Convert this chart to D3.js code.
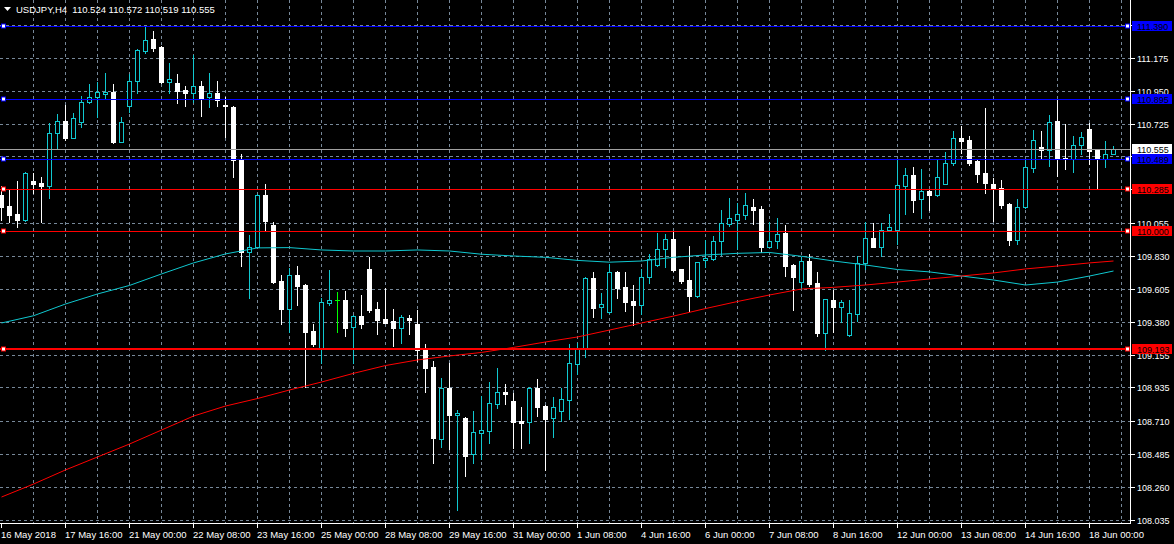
<!DOCTYPE html>
<html><head><meta charset="utf-8">
<script src="https://cdn.jsdelivr.net/npm/d3@7"></script>
<style>html,body{margin:0;padding:0;background:#000;overflow:hidden}</style>
</head><body>
<svg id="c" width="1174" height="544"></svg>
<script>
const symbolTitle = "USDJPY,H4";
const opens = [110.242,110.167,110.113,110.072,110.337,110.326,110.305,110.662,110.745,110.632,
110.736,110.871,110.910,110.931,110.941,110.604,110.850,111.018,111.222,111.302,
111.247,111.012,111.005,110.955,110.933,110.983,110.906,110.933,110.855,110.838,
110.485,109.857,109.891,110.242,110.038,109.658,109.470,109.697,109.631,109.319,
109.194,109.511,109.527,109.529,109.348,109.420,109.740,109.468,109.400,109.386,
109.341,109.405,109.366,109.194,109.074,108.587,108.931,108.750,108.728,108.481,
108.628,108.641,108.825,108.902,108.843,108.705,108.699,108.931,108.809,108.726,
108.777,108.852,109.097,109.200,109.679,109.480,109.446,109.719,109.617,109.522,
109.497,109.683,109.765,109.874,109.944,109.740,109.665,109.556,109.799,109.810,
109.928,110.047,110.074,110.108,110.161,110.147,109.891,109.928,109.986,109.767,
109.654,109.794,109.642,109.307,109.529,109.484,109.294,109.436,109.783,109.948,
109.891,110.002,110.005,110.305,110.378,110.213,110.269,110.242,110.319,110.462,
110.629,110.616,110.473,110.392,110.317,110.290,110.181,109.939,110.159,110.428,
110.568,110.550,110.745,110.494,110.485,110.580,110.691,110.548,110.489,110.524];
const highs = [110.303,110.276,110.337,110.398,110.394,110.367,110.734,110.793,110.853,110.798,
110.912,110.996,111.007,111.073,110.996,110.775,111.064,111.234,111.385,111.356,
111.254,111.141,111.064,110.983,111.193,111.018,111.073,111.018,110.910,110.847,
110.521,109.971,110.249,110.317,110.061,109.699,109.744,109.760,109.638,109.366,
109.541,109.733,109.583,109.590,109.427,109.563,109.823,109.516,109.609,109.468,
109.427,109.427,109.461,109.230,109.115,108.999,109.101,108.780,108.737,108.775,
108.879,108.972,109.069,108.959,108.900,108.804,108.940,108.992,108.813,108.870,
108.929,109.230,109.235,109.687,109.719,109.575,109.772,109.726,109.719,109.631,
109.740,109.840,109.982,109.977,109.991,109.742,109.896,109.785,109.937,109.964,
110.140,110.222,110.188,110.256,110.213,110.167,110.061,110.084,110.038,109.774,
109.819,109.842,109.719,109.536,109.597,109.529,109.529,109.828,110.061,110.050,
110.050,110.113,110.480,110.428,110.430,110.419,110.273,110.482,110.534,110.677,
110.711,110.643,110.477,110.835,110.356,110.344,110.186,110.215,110.485,110.684,
110.679,110.786,110.887,110.725,110.643,110.670,110.729,110.551,110.609,110.572];
const lows = [110.072,110.060,110.027,110.065,110.254,110.060,110.224,110.553,110.616,110.630,
110.702,110.869,110.775,110.896,110.598,110.602,110.808,110.937,111.205,111.222,
111.001,110.937,110.865,110.847,110.876,110.779,110.842,110.847,110.638,110.367,
109.760,109.545,109.889,110.005,109.642,109.366,109.310,109.495,108.940,109.217,
109.104,109.495,109.314,109.287,109.104,109.341,109.450,109.298,109.370,109.217,
109.239,109.298,109.115,108.906,108.420,108.533,108.517,108.103,108.336,108.420,
108.451,108.560,108.798,108.821,108.526,108.526,108.560,108.743,108.375,108.601,
108.705,108.723,109.025,109.145,109.416,109.409,109.441,109.545,109.455,109.361,
109.432,109.642,109.760,109.755,109.726,109.642,109.456,109.547,109.755,109.801,
109.835,110.032,109.876,110.079,110.045,109.857,109.887,109.884,109.692,109.461,
109.604,109.626,109.287,109.190,109.314,109.382,109.287,109.386,109.738,109.889,
109.830,110.001,109.910,110.113,110.129,110.088,110.140,110.235,110.317,110.446,
110.530,110.446,110.333,110.258,110.066,110.152,109.903,109.910,110.157,110.401,
110.492,110.439,110.371,110.419,110.401,110.521,110.453,110.281,110.435,110.519];
const closes = [110.163,110.106,110.072,110.390,110.317,110.305,110.662,110.745,110.632,110.764,
110.871,110.910,110.941,110.943,110.604,110.736,111.016,111.227,111.295,111.243,
111.010,111.030,110.951,110.933,110.983,110.903,110.933,110.887,110.845,110.480,
109.857,109.891,110.242,110.068,109.649,109.468,109.697,109.624,109.314,109.230,
109.514,109.529,109.527,109.341,109.420,109.366,109.461,109.393,109.375,109.341,
109.412,109.395,109.190,109.069,108.594,108.931,108.750,108.762,108.472,108.631,
108.644,108.828,108.902,108.893,108.703,108.696,108.931,108.804,108.723,108.800,
108.855,109.099,109.201,109.677,109.477,109.500,109.717,109.613,109.518,109.497,
109.683,109.806,109.874,109.941,109.735,109.660,109.558,109.785,109.814,109.930,
110.050,110.084,110.111,110.172,110.142,109.889,109.930,109.977,109.760,109.687,
109.794,109.638,109.305,109.534,109.484,109.514,109.439,109.783,109.948,109.891,
110.005,110.023,110.308,110.376,110.208,110.269,110.244,110.362,110.458,110.627,
110.611,110.462,110.385,110.326,110.283,110.174,109.937,110.161,110.430,110.614,
110.550,110.736,110.485,110.485,110.582,110.634,110.541,110.487,110.519,110.555];

const maIdx = [0,4,8,12,16,20,24,28,32,36,40,44,48,52,56,60,64,68,72,76,80,84,88,92,96,100,104,108,112,116,120,124,128,132,136,139];
const maCyan = [109.373,109.422,109.502,109.570,109.628,109.706,109.781,109.842,109.883,109.885,109.869,109.862,109.862,109.869,109.862,109.840,109.828,109.819,109.798,109.786,109.794,109.819,109.835,109.846,109.852,109.826,109.794,109.767,109.736,109.720,109.692,109.665,109.631,109.651,109.692,109.726];
const maRed = [108.191,108.279,108.375,108.463,108.551,108.646,108.741,108.809,108.860,108.918,108.972,109.031,109.084,109.122,109.149,109.173,109.207,109.244,109.278,109.325,109.373,109.420,109.471,109.519,109.563,109.604,109.615,109.631,109.651,109.672,109.692,109.713,109.740,109.760,109.781,109.794];

const priceTicks = [108.035,108.260,108.485,108.710,108.935,109.155,109.380,109.605,109.830,110.055,110.285,110.505,110.725,110.950,111.175,111.400];
const dateIdx = [0,8,16,24,32,40,48,56,64,72,80,88,96,104,112,120,128,136];
const dateLabels = ["16 May 2018","17 May 16:00","21 May 00:00","22 May 08:00","23 May 16:00","25 May 00:00","28 May 08:00","29 May 16:00","31 May 00:00","1 Jun 08:00","4 Jun 16:00","6 Jun 00:00","7 Jun 08:00","8 Jun 16:00","12 Jun 00:00","13 Jun 08:00","14 Jun 16:00","18 Jun 00:00"];
const levelPrices = [111.390,110.895,110.489,110.285,110.000,109.193];
const levelKinds = ["resistance","resistance","resistance","support","support","support"];
const bidPrice = 110.555;

const W = 1174, H = 544;
const plotRight = 1130, plotBottom = 523;
const cyan = "#10c8d0", gridCol = "#778899";
const svg = d3.select("#c");
svg.append("rect").attr("width",W).attr("height",H).attr("fill","#000");

const x = d3.scaleLinear().domain([0,140]).range([1.5,1121.5]);
const y = d3.scaleLinear().domain([108.035,111.390]).range([520,26]);
const py = v => Math.round(y(v)) + 0.5;

svg.append("defs").append("clipPath").attr("id","pc")
  .append("rect").attr("x",0).attr("y",0).attr("width",plotRight).attr("height",plotBottom);
const plot = svg.append("g").attr("clip-path","url(#pc)");

// grid
const gridG = plot.append("g").attr("stroke",gridCol).attr("stroke-width",1).attr("stroke-dasharray","3,3");
const vIdx = d3.range(4,141,4);
gridG.selectAll("line.v").data(vIdx).join("line")
  .attr("x1",d=>x(d)).attr("x2",d=>x(d)).attr("y1",0).attr("y2",plotBottom);
gridG.selectAll("line.h").data(priceTicks).join("line")
  .attr("x1",0).attr("x2",plotRight).attr("y1",d=>py(d)).attr("y2",d=>py(d));

// candles
const data = opens.map((o,i)=>({i,o,h:highs[i],l:lows[i],c:closes[i]}));
const cg = plot.append("g");
data.forEach(d=>{
  const xc = x(d.i);
  const bull = d.c > d.o, doji = d.c === d.o;
  const col = doji ? "#00ff00" : (bull ? cyan : "#ffffff");
  cg.append("line").attr("x1",xc).attr("x2",xc)
    .attr("y1",Math.round(y(d.h))).attr("y2",Math.round(y(d.l))+1)
    .attr("stroke",col).attr("stroke-width",1);
  const top = Math.round(y(Math.max(d.o,d.c)));
  const bot = Math.round(y(Math.min(d.o,d.c)));
  if (doji) {
    cg.append("line").attr("x1",xc-2.5).attr("x2",xc+2.5).attr("y1",top+0.5).attr("y2",top+0.5)
      .attr("stroke",col);
  } else if (bull) {
    cg.append("rect").attr("x",xc-2).attr("width",4).attr("y",top+0.5).attr("height",Math.max(0,bot-top))
      .attr("fill","#000").attr("stroke",cyan).attr("stroke-width",1);
  } else {
    cg.append("rect").attr("x",xc-2.5).attr("width",5).attr("y",top).attr("height",Math.max(1,bot-top+1))
      .attr("fill","#fff");
  }
});

// moving averages
const line = d3.line().x(d=>x(d[0])).y(d=>y(d[1]));
plot.append("path").datum(maIdx.map((k,j)=>[k,maCyan[j]])).attr("d",line)
  .attr("fill","none").attr("stroke",cyan).attr("stroke-width",1);
plot.append("path").datum(maIdx.map((k,j)=>[k,maRed[j]])).attr("d",line)
  .attr("fill","none").attr("stroke","#ff0000").attr("stroke-width",1);

// bid line
plot.append("line").attr("x1",0).attr("x2",plotRight).attr("y1",py(bidPrice)).attr("y2",py(bidPrice))
  .attr("stroke","#a0a0a0").attr("stroke-width",1);

// horizontal levels
const kindColor = k => k==="resistance" ? "#0000ff" : "#ff0000";
levelPrices.forEach((p,j)=>{
  const col = kindColor(levelKinds[j]);
  const thick = j===levelPrices.length-1;
  const yy = thick ? Math.round(y(p)) : py(p);
  plot.append("line").attr("x1",0).attr("x2",plotRight).attr("y1",yy).attr("y2",yy)
    .attr("stroke",col).attr("stroke-width",thick?2:1);
  [3.5,1127.5].forEach(xx=>{
    plot.append("rect").attr("x",xx-2).attr("y",Math.round(y(p))-2).attr("width",4).attr("height",4)
      .attr("fill","#fff").attr("stroke",col).attr("stroke-width",1);
  });
});

// frame
svg.append("line").attr("x1",plotRight+0.5).attr("x2",plotRight+0.5).attr("y1",0).attr("y2",plotBottom+1)
  .attr("stroke","#fff");
svg.append("line").attr("x1",0).attr("x2",plotRight+1).attr("y1",plotBottom+0.5).attr("y2",plotBottom+0.5)
  .attr("stroke","#fff");

const font = "Liberation Sans, Arial, sans-serif";
// right axis
const ra = svg.append("g");
const boxPrices = [bidPrice].concat(levelPrices);
priceTicks.forEach(p=>{
  const yy = py(p);
  ra.append("line").attr("x1",plotRight+1).attr("x2",plotRight+5).attr("y1",yy).attr("y2",yy).attr("stroke","#fff");
  const hidden = boxPrices.some(b=>Math.abs(y(b)-y(p))<4);
  if (!hidden) {
    ra.append("text").attr("x",1137).attr("y",yy).attr("dy","0.35em")
      .attr("fill","#fff").attr("font-family",font).attr("font-size","9px").text(p.toFixed(3));
  }
});
// price boxes
const boxes = [{p:bidPrice,col:"#ffffff"}].concat(levelPrices.map((p,j)=>({p,col:kindColor(levelKinds[j])})));
boxes.forEach(b=>{
  const yy = Math.round(y(b.p));
  ra.append("rect").attr("x",1132).attr("y",yy-5).attr("width",40).attr("height",10).attr("fill",b.col);
  ra.append("text").attr("x",1137).attr("y",yy+0.5).attr("dy","0.35em")
    .attr("fill","#000").attr("font-family",font).attr("font-size","9px").text(b.p.toFixed(3));
});

// bottom axis
const ba = svg.append("g");
dateIdx.forEach((k,j)=>{
  const xx = x(k);
  ba.append("line").attr("x1",xx).attr("x2",xx).attr("y1",plotBottom+1).attr("y2",plotBottom+5).attr("stroke","#fff");
  ba.append("text").attr("x",xx-0.5).attr("y",538).attr("fill","#fff")
    .attr("font-family",font).attr("font-size","9.5px").text(dateLabels[j]);
});

// title
svg.append("path").attr("d","M4,7 L11,7 L7.5,11 Z").attr("fill","#fff");
const last = data[data.length-1];
svg.append("text").attr("x",16).attr("y",12.5).attr("fill","#fff")
  .attr("font-family",font).attr("font-size","9.5px").style("white-space","pre")
  .text(symbolTitle + "  " + [last.o,last.h,last.l,last.c].map(v=>v.toFixed(3)).join(" "));
</script>
</body></html>
